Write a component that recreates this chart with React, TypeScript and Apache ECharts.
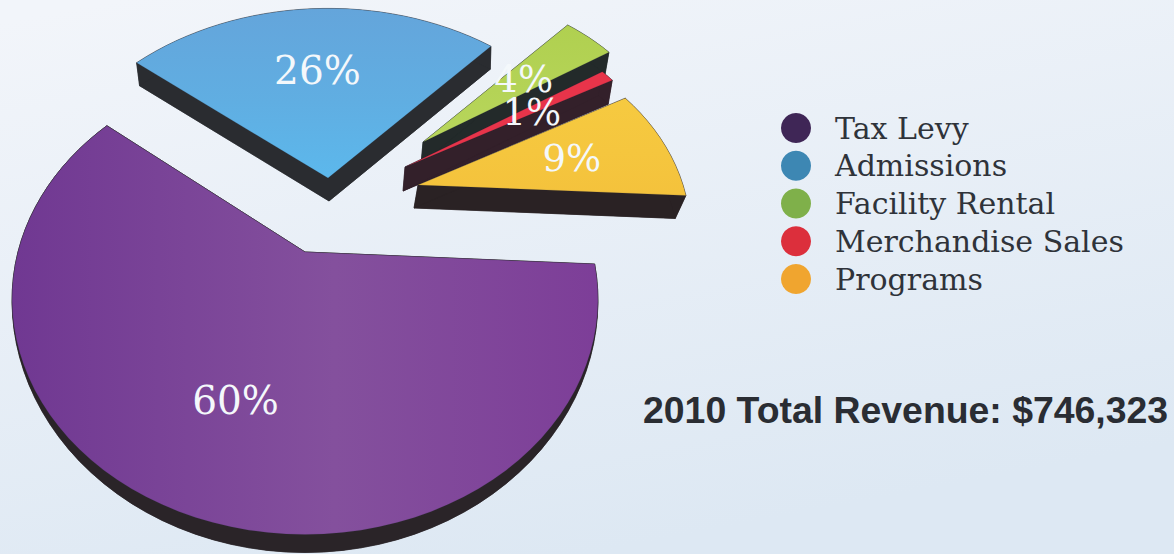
import React, { useEffect, useRef } from "react";
import * as echarts from "echarts";

const names = ["Tax Levy", "Admissions", "Facility Rental", "Merchandise Sales", "Programs"];
const shares = [60, 26, 4, 1, 9];
const labels = ["60%", "26%", "4%", "1%", "9%"];
const legendColors = ["#3f2656", "#3d87b3", "#7fb04a", "#dc2f3c", "#f0a52f"];
const faceFrom = ["#703892", "#64a5db", "#b0d050", "#e8344a", "#f6ca40"];
const faceMid = ["#84509d", "#60aee2", "#b4d356", "#e8344a", "#f5c63e"];
const faceTo = ["#7d3e98", "#5cb8ec", "#b8d65c", "#e8344a", "#f4c23c"];
const sideColors = ["#2a2428", "#2a2c30", "#232a2a", "#33202a", "#2a2224"];
const titleText = "2010 Total Revenue: $746,323";

// presentation geometry for each exploded wedge
const apexX = [305, 328, 423, 405, 418];
const apexY = [252, 178, 142, 167, 185];
const radiusX = [287, 285, 285, 285, 285];
const radiusY = [226, 212, 212, 212, 212];
const persp = [0.2, 0.25, 0.25, 0.25, 0.25];
const radiusScale = [1, 1, 0.87, 0.93, 0.93];
const depth = [18, 23, 22, 24, 23];
const depthTaper = [1, 0, 0, 0, 0];
const bottomScale = [1, 0.99, 0.99, 0.99, 0.975];
const bottomShift = [0, 1, -2, -2, -4];
const labelPos = [0.63, 0.58, 0.55, 0.62, 0.55];
const labelShiftX = [4, 0, 4, -4, 16];
const labelShiftY = [-2, 0, -2, 4, -2];
const labelSize = [39, 39, 37, 37, 37];

const START = -3;

function project(i: number, deg: number, r: number) {
  const a = (deg * Math.PI) / 180;
  const u = Math.cos(a) * r * radiusScale[i];
  const v = Math.sin(a) * r * radiusScale[i];
  const w = 1 + persp[i] * v;
  return [apexX[i] + (radiusX[i] * u) / w, apexY[i] - (radiusY[i] * v) / w];
}

function wedgeAngles(i: number) {
  const total = shares.reduce((s, x) => s + x, 0);
  let before = 0;
  for (let k = 0; k < i; k++) before += shares[k];
  const a0 = START - (before / total) * 360;
  const a1 = a0 - (shares[i] / total) * 360;
  return [a0, a1];
}

function renderWedge(i: number) {
  return (_params: any, api: any) => {
    const value = api.value(0);
    const total = shares.reduce((s, x) => s + x, 0);
    const [a0] = wedgeAngles(i);
    const a1 = a0 - (value / total) * 360;
    const n = Math.max(6, Math.ceil(Math.abs(a1 - a0) / 3));
    const angles: number[] = [];
    for (let k = 0; k <= n; k++) angles.push(a0 + ((a1 - a0) * k) / n);
    const arc = angles.map((d) => project(i, d, 1));
    const apex = [apexX[i], apexY[i]];
    const down = (p: number[], deg?: number) => {
      let d = depth[i];
      if (depthTaper[i] && deg !== undefined) {
        d = depth[i] * Math.pow(Math.max(0, -Math.sin((deg * Math.PI) / 180)), 1.4);
      }
      return [apexX[i] + (p[0] - apexX[i]) * bottomScale[i] + bottomShift[i], p[1] + d];
    };
    const arcDown = arc.map((p, k) => down(p, angles[k]));
    const apexDown = depthTaper[i] ? apex : down(apex);
    const side = { fill: sideColors[i], stroke: sideColors[i], lineWidth: 0.5 };
    const mk = (points: number[][], style: any) => ({ type: "polygon", shape: { points }, style });
    const band = arc.concat(arcDown.slice().reverse());
    const isPurple = i === 0;
    return {
      type: "group",
      children: [
        mk([apex, arc[0], arcDown[0], apexDown], side),
        mk([apex, arc[n], arcDown[n], apexDown], side),
        mk(band, side),
        mk([apexDown, ...arcDown], side),
        mk([apex, ...arc], {
          fill: new echarts.graphic.LinearGradient(0, 0, isPurple ? 1 : 0, isPurple ? 0 : 1, [
            { offset: 0, color: faceFrom[i] },
            { offset: 0.55, color: faceMid[i] },
            { offset: 1, color: faceTo[i] },
          ]),
          stroke: "rgba(40,50,70,0.3)",
          lineWidth: 0.5,
        }),
      ],
    };
  };
}

function labelElements() {
  return names.map((_, i) => {
    const [a0, a1] = wedgeAngles(i);
    const p = project(i, (a0 + a1) / 2, labelPos[i]);
    return {
      type: "text",
      x: p[0] + labelShiftX[i],
      y: p[1] + labelShiftY[i],
      z: 50,
      style: {
        text: labels[i],
        fontFamily: "DejaVu Serif",
        fontSize: labelSize[i],
        fill: "#f4f8fb",
        align: "center",
        verticalAlign: "middle",
      },
    };
  });
}

export default function App() {
  const ref = useRef<HTMLDivElement>(null);
  useEffect(() => {
    document.body.style.margin = "0";
    const chart = echarts.init(ref.current!, undefined, { renderer: "svg" });
    chart.setOption({
      animation: false,
      backgroundColor: new echarts.graphic.LinearGradient(0.1, 0, 0.5, 1, [
        { offset: 0, color: "#f2f5fa" },
        { offset: 1, color: "#dde8f3" },
      ]),
      title: {
        text: titleText,
        left: 643,
        top: 391,
        padding: 0,
        textStyle: { fontFamily: "Liberation Sans", fontSize: 37.4, fontWeight: "bold", color: "#2a2d33" },
      },
      legend: {
        orient: "vertical",
        left: 781,
        top: 113,
        padding: 0,
        itemWidth: 30,
        itemHeight: 30,
        itemGap: 7.75,
        icon: "circle",
        data: names,
        textStyle: {
          fontFamily: "DejaVu Serif",
          fontSize: 30,
          lineHeight: 30,
          color: "#2f333a",
          padding: [0, 0, 0, 19],
        },
      },
      series: names.map((name, i) => ({
        type: "custom",
        name,
        coordinateSystem: "none",
        itemStyle: { color: legendColors[i] },
        data: [[shares[i]]],
        renderItem: renderWedge(i),
        silent: true,
        z: 2 + i,
      })),
      graphic: { elements: labelElements() },
    });
    return () => chart.dispose();
  }, []);
  return <div ref={ref} style={{ width: 1174, height: 554 }} />;
}
